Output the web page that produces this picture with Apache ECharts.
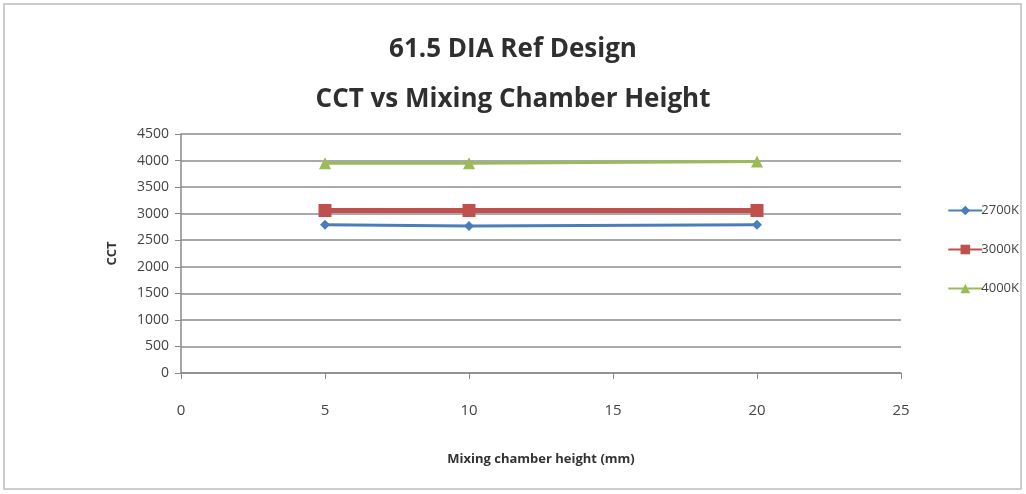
<!DOCTYPE html>
<html>
<head>
<meta charset="utf-8">
<script src="https://cdn.jsdelivr.net/npm/echarts@6/dist/echarts.min.js"></script>
<style>
  html, body { margin: 0; padding: 0; background: #fff; }
  #chart { width: 1026px; height: 494px; }
</style>
</head>
<body>
<div id="chart"></div>
<script>
// Mixing chamber heights (mm) and measured CCT per reference design
const heights = [5, 10, 20];
const cct2700 = [2790, 2770, 2790];
const cct3000 = [3060, 3060, 3060];
const cct4000 = [3950, 3950, 3980];
const seriesNames = ['2700K', '3000K', '4000K'];

const font = '"Liberation Sans Narrow", "Open Sans", sans-serif';

function pairs(xs, ys) {
  return xs.map((x, i) => [x, ys[i]]);
}

const chart = echarts.init(document.getElementById('chart'));
chart.setOption({
  backgroundColor: '#ffffff',
  animation: false,
  graphic: [{
    type: 'rect',
    shape: { x: 4, y: 4, width: 1017, height: 485 },
    style: { fill: 'none', stroke: '#bdbdbd', lineWidth: 1.5 }
  }],
  title: {
    text: '61.5 DIA Ref Design\nCCT vs Mixing Chamber Height',
    left: 'center',
    top: 20,
    textStyle: {
      fontFamily: '"Open Sans", sans-serif',
      fontWeight: 'bold',
      fontSize: 26,
      lineHeight: 50,
      color: '#2f2f2f'
    }
  },
  legend: {
    orient: 'vertical',
    right: 2,
    top: 199,
    itemGap: 26,
    itemWidth: 34,
    itemHeight: 12,
    textStyle: { fontFamily: font, fontSize: 13, color: '#444', padding: [0, 0, 0, -6] },
    data: seriesNames
  },
  grid: { left: 181, right: 125, top: 134, bottom: 121 },
  xAxis: {
    type: 'value',
    min: 0, max: 25, interval: 5,
    name: 'Mixing chamber height (mm)',
    nameLocation: 'middle',
    nameGap: 80,
    nameTextStyle: { fontFamily: font, fontWeight: 'bold', fontSize: 13, color: '#333' },
    axisLine: { lineStyle: { color: '#8a8a8a', width: 1.5 } },
    axisTick: { show: true, length: 6, lineStyle: { color: '#8a8a8a' } },
    axisLabel: { margin: 30, fontFamily: font, fontSize: 15, color: '#444' },
    splitLine: { show: false }
  },
  yAxis: {
    type: 'value',
    min: 0, max: 4500, interval: 500,
    name: 'CCT',
    nameLocation: 'middle',
    nameGap: 62,
    nameRotate: 90,
    nameTextStyle: { fontFamily: font, fontWeight: 'bold', fontSize: 13, color: '#333' },
    axisLine: { show: true, lineStyle: { color: '#8a8a8a', width: 1.5 } },
    axisTick: { show: true, length: 6, inside: false, lineStyle: { color: '#8a8a8a' } },
    axisLabel: {
      margin: 12, fontFamily: font, fontSize: 14, color: '#444',
      formatter: (v) => String(v)
    },
    splitLine: { lineStyle: { color: '#8c8c8c', width: 1.5 } }
  },
  series: [
    {
      name: seriesNames[0], type: 'line', data: pairs(heights, cct2700),
      symbol: 'diamond', symbolSize: 10,
      lineStyle: { color: '#4a7ebb', width: 3 },
      itemStyle: { color: '#4a7ebb' }
    },
    {
      name: seriesNames[1], type: 'line', data: pairs(heights, cct3000),
      symbol: 'rect', symbolSize: 13,
      lineStyle: { color: '#c0504d', width: 5 },
      itemStyle: { color: '#c0504d' }
    },
    {
      name: seriesNames[2], type: 'line', data: pairs(heights, cct4000),
      symbol: 'triangle', symbolSize: 12,
      lineStyle: { color: '#9bbb59', width: 3 },
      itemStyle: { color: '#9bbb59' }
    }
  ]
});
</script>
</body>
</html>
